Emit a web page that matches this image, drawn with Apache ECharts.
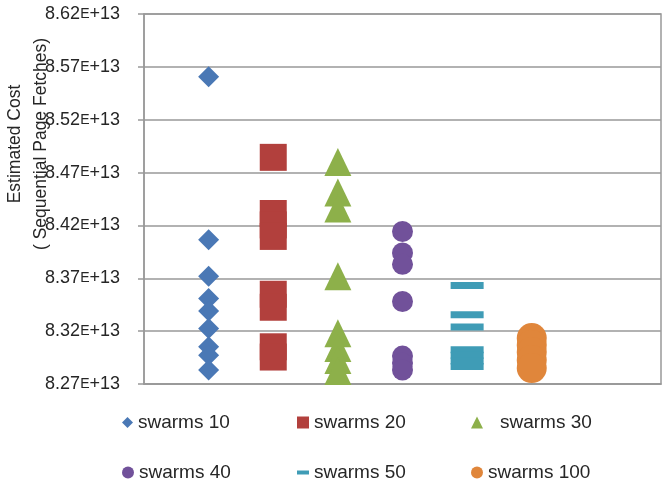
<!DOCTYPE html>
<html>
<head>
<meta charset="utf-8">
<script src="https://cdn.jsdelivr.net/npm/echarts@6/dist/echarts.min.js"></script>
<style>
  html, body { margin: 0; padding: 0; background: #fff; }
  #chart { width: 664px; height: 489px; }
</style>
</head>
<body>
<div id="chart"></div>
<script>
// data
var seriesNames = ['swarms 10', 'swarms 20', 'swarms 30', 'swarms 40', 'swarms 50', 'swarms 100'];
var xSlots = [1, 2, 3, 4, 5, 6];

var swarms10 = [8.5606e13, 8.4065e13, 8.3719e13, 8.3508e13, 8.3391e13, 8.3225e13, 8.3052e13, 8.2973e13, 8.2832e13];
var swarms20 = [8.4844e13, 8.4313e13, 8.4205e13, 8.4096e13, 8.3549e13, 8.3426e13, 8.3052e13, 8.2955e13];
var swarms30 = [8.4800e13, 8.4511e13, 8.4360e13, 8.3720e13, 8.3180e13, 8.3040e13, 8.2926e13, 8.2823e13];
var swarms40 = [8.4143e13, 8.3940e13, 8.3832e13, 8.3480e13, 8.2964e13, 8.2898e13, 8.2832e13];
var swarms50 = [8.3631e13, 8.3355e13, 8.3240e13, 8.3025e13, 8.2973e13, 8.2917e13, 8.2865e13];
var swarms100 = [8.3134e13, 8.3068e13, 8.3002e13, 8.2926e13, 8.2851e13];

var yMin = 8.27e13;
var yMax = 8.62e13;
var yStep = 5e11;

var allValues = [swarms10, swarms20, swarms30, swarms40, swarms50, swarms100];

// marker look per series
var colors = ['#4A78B5', '#B2403D', '#8DB04A', '#71519A', '#3F9CB6', '#E0863B'];
var symbols = ['diamond', 'rect', 'triangle', 'circle', 'rect', 'circle'];
var sizes = [[21, 21], [27, 27], [27, 28], [21, 21], [33, 7], [30, 30]];

var font = 'Liberation Sans, Arial, sans-serif';
var chart = echarts.init(document.getElementById('chart'));

var series = seriesNames.map(function (name, i) {
  return {
    name: name,
    type: 'scatter',
    symbol: symbols[i],
    symbolSize: sizes[i],
    itemStyle: { color: colors[i], opacity: 1 },
    emphasis: { disabled: true },
    data: allValues[i].map(function (v) { return [xSlots[i], v]; })
  };
});

var legendIcons = ['diamond', 'rect', 'triangle', 'circle', 'rect', 'circle'];
var legendBox = [
  { left: 122, top: 413, w: 11, h: 11, pad: 0 },
  { left: 297, top: 413, w: 12, h: 12, pad: 0 },
  { left: 471, top: 413, w: 12, h: 12, pad: 12 },
  { left: 122, top: 463, w: 12, h: 12, pad: 0 },
  { left: 297, top: 463, w: 12, h: 4, pad: 0 },
  { left: 471, top: 463, w: 12, h: 12, pad: 0 }
];

var legends = seriesNames.map(function (name, i) {
  var b = legendBox[i];
  return {
    data: [{ name: name, icon: legendIcons[i] }],
    left: b.left,
    top: b.top,
    padding: 0,
    itemWidth: b.w,
    itemHeight: b.h,
    selectedMode: false,
    textStyle: {
      fontFamily: font,
      fontSize: 19,
      color: '#262626',
      padding: [0, 0, 0, b.pad]
    }
  };
});

chart.setOption({
  animation: false,
  grid: {
    left: 144,
    right: 3,
    top: 14,
    bottom: 105,
    show: true,
    borderColor: '#999',
    borderWidth: 1.5
  },
  legend: legends,
  xAxis: {
    type: 'value',
    min: 0,
    max: 8,
    axisLine: { show: true, lineStyle: { color: '#999', width: 1.5 } },
    axisTick: { show: false },
    axisLabel: { show: false },
    splitLine: { show: false }
  },
  yAxis: {
    type: 'value',
    min: yMin,
    max: yMax,
    interval: yStep,
    axisLine: { show: true, lineStyle: { color: '#999', width: 1.5 } },
    axisTick: { show: true, length: 6, lineStyle: { color: '#999', width: 1.5 } },
    splitLine: { show: true, lineStyle: { color: '#999', width: 1.5 } },
    axisLabel: {
      margin: 24,
      fontFamily: font,
      fontSize: 18,
      color: '#262626',
      formatter: function (v) {
        return (v / 1e13).toFixed(2) + '{e|E}+13';
      },
      rich: {
        e: { fontSize: 14, fontFamily: font, color: '#262626' }
      }
    }
  },
  graphic: [
    {
      type: 'text',
      x: 15,
      y: 144,
      rotation: Math.PI / 2,
      style: {
        text: 'Estimated Cost',
        font: '17.5px "Liberation Sans", Arial, sans-serif',
        fill: '#262626',
        textAlign: 'center',
        textVerticalAlign: 'middle'
      }
    },
    {
      type: 'text',
      x: 41,
      y: 144,
      rotation: Math.PI / 2,
      style: {
        text: '( Sequential Page Fetches)',
        font: '17.5px "Liberation Sans", Arial, sans-serif',
        fill: '#262626',
        textAlign: 'center',
        textVerticalAlign: 'middle'
      }
    }
  ],
  series: series
});
</script>
</body>
</html>
